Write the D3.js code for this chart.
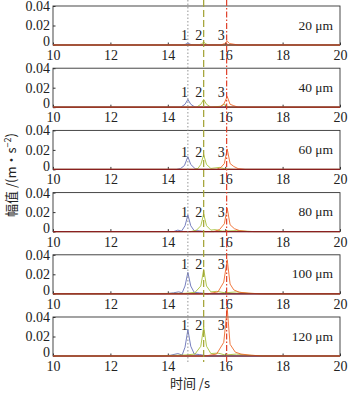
<!DOCTYPE html>
<html>
<head>
<meta charset="utf-8">
<script src="https://cdn.jsdelivr.net/npm/d3@7"></script>
<style>
  body { margin: 0; background: #fff; }
</style>
</head>
<body>
<div id="chart"></div>
<script>
const width = 354;
const height = 393;
const margin = { left: 53, right: 14 };
const panelTop = 6;
const panelStep = 62.2;
const panelHeight = 39;
const serif = "'Liberation Serif', 'DejaVu Serif', serif";

// panel captions and tick labels
const panelLabels = ["20 μm", "40 μm", "60 μm", "80 μm", "100 μm", "120 μm"];
const xTicks = [10, 12, 14, 16, 18, 20];
const yTicks = [0, 0.02, 0.04];

// reference lines (s)
const refTimes = [14.7, 15.25, 16.05];

// height of the 1 2 3 labels in each panel
const labelLevels = [0.010, 0.0155, 0.018, 0.0205, 0.031, 0.032];
const labelTimes = [14.58, 15.08, 15.86];

// peak 1 (blue) per panel: [time, amplitude]
const wave1 = [
  [[10, 0], [14.5, 0], [14.62, 0.0008], [14.7, 0.002], [14.78, 0.0008], [14.9, 0], [20, 0]],
  [[10, 0], [14.45, 0], [14.6, 0.003], [14.7, 0.008], [14.8, 0.003], [14.95, 0], [20, 0]],
  [[10, 0], [14.3, 0], [14.45, 0.001], [14.58, 0.004], [14.7, 0.013], [14.8, 0.005], [14.95, 0.0008], [15.1, 0], [20, 0]],
  [[10, 0], [14.2, 0], [14.35, 0.0015], [14.48, 0.0005], [14.6, 0.006], [14.7, 0.017], [14.8, 0.006], [14.92, 0.001], [15.1, 0.0008], [15.3, 0], [20, 0]],
  [[10, 0], [13.9, 0], [14.2, 0.001], [14.38, 0.002], [14.5, 0.001], [14.6, 0.008], [14.7, 0.022], [14.8, 0.008], [14.92, 0.0015], [15.1, 0.001], [15.4, 0], [20, 0]],
  [[10, 0], [13.8, 0], [14.1, 0.0008], [14.35, 0.0025], [14.5, 0.001], [14.6, 0.009], [14.7, 0.027], [14.8, 0.01], [14.92, 0.002], [15.1, 0.0015], [15.4, 0], [20, 0]]
];

// peak 2 (yellow green)
const wave2 = [
  [[10, 0], [15.05, 0], [15.17, 0.001], [15.25, 0.003], [15.33, 0.001], [15.45, 0], [20, 0]],
  [[10, 0], [15.0, 0], [15.15, 0.003], [15.25, 0.008], [15.35, 0.003], [15.5, 0], [15.85, 0.001], [15.95, 0.003], [16.05, 0.001], [16.2, 0], [20, 0]],
  [[10, 0], [14.9, 0], [15.05, 0.001], [15.15, 0.005], [15.25, 0.015], [15.35, 0.005], [15.5, 0.001], [15.8, 0.002], [16.0, 0.0005], [16.3, 0], [20, 0]],
  [[10, 0], [14.8, 0], [15.0, 0.0015], [15.15, 0.006], [15.25, 0.018], [15.35, 0.006], [15.5, 0.0015], [15.65, 0.002], [15.9, 0.0005], [16.4, 0.001], [17.0, 0], [20, 0]],
  [[10, 0], [12.0, 0], [14.6, 0.0005], [14.95, 0.0015], [15.15, 0.008], [15.25, 0.025], [15.35, 0.008], [15.5, 0.002], [15.7, 0.0025], [16.0, 0.001], [16.4, 0.002], [16.8, 0.0005], [17.5, 0], [20, 0]],
  [[10, 0], [13.5, 0], [14.6, 0.001], [14.95, 0.002], [15.15, 0.01], [15.25, 0.03], [15.35, 0.01], [15.5, 0.0025], [15.75, 0.003], [16.0, 0.001], [16.4, 0.002], [16.8, 0.0008], [17.5, 0], [20, 0]]
];

// peak 3 (orange)
const wave3 = [
  [[10, 0], [15.85, 0], [15.98, 0.0015], [16.07, 0.004], [16.15, 0.0015], [16.3, 0.0008], [16.45, 0], [20, 0]],
  [[10, 0], [15.8, 0], [15.95, 0.003], [16.07, 0.011], [16.17, 0.003], [16.3, 0.0015], [16.45, 0], [20, 0]],
  [[10, 0], [15.7, 0], [15.85, 0.002], [15.97, 0.006], [16.07, 0.021], [16.17, 0.006], [16.3, 0.003], [16.45, 0.0008], [16.7, 0], [20, 0]],
  [[10, 0], [15.6, 0], [15.8, 0.002], [15.97, 0.008], [16.07, 0.024], [16.17, 0.007], [16.32, 0.003], [16.5, 0.001], [16.8, 0], [20, 0]],
  [[10, 0], [15.4, 0], [15.75, 0.002], [15.95, 0.012], [16.07, 0.035], [16.17, 0.01], [16.3, 0.004], [16.5, 0.0015], [16.9, 0.0005], [17.2, 0], [20, 0]],
  [[10, 0], [15.3, 0], [15.7, 0.002], [15.95, 0.014], [16.07, 0.049], [16.17, 0.012], [16.35, 0.004], [16.55, 0.002], [16.9, 0.0008], [17.3, 0], [20, 0]]
];

const waves = [wave1, wave2, wave3];
const waveColors = ["#6670b8", "#a8c23a", "#ee6a2a"];
const refColors = ["#888", "#a0a030", "#e0402a"];
const refDash = ["1.5,2", "7,3", "6,2,1.5,2"];

const svg = d3.create("svg")
  .attr("width", width)
  .attr("height", height)
  .attr("viewBox", [0, 0, width, height])
  .style("font-family", serif);

const x = d3.scaleLinear()
  .domain([10, 20])
  .range([margin.left, width - margin.right]);

const line = d3.line()
  .x((d) => x(d[0]));

panelLabels.forEach((label, i) => {
  const top = panelTop + i * panelStep;
  const y = d3.scaleLinear()
    .domain([0, 0.04])
    .range([top + panelHeight, top]);

  const g = svg.append("g").attr("class", "panel");

  // frame
  g.append("rect")
    .attr("x", x(10))
    .attr("y", top)
    .attr("width", x(20) - x(10))
    .attr("height", panelHeight)
    .attr("fill", "none")
    .attr("stroke", "#333")
    .attr("stroke-width", 0.9);

  // x axis (ticks inward)
  g.append("g")
    .attr("transform", `translate(0,${top + panelHeight})`)
    .call(d3.axisBottom(x).tickValues(xTicks).tickSize(-2.5).tickPadding(5).tickFormat(d3.format("d")))
    .call((g) => g.select(".domain").remove())
    .call((g) => g.selectAll("line").attr("stroke", "#333"))
    .call((g) => g.selectAll("text").attr("font-size", "14px").attr("fill", "#222")
      .style("font-family", serif));

  // y axis
  g.append("g")
    .attr("transform", `translate(${x(10)},0)`)
    .call(d3.axisLeft(y).tickValues(yTicks).tickSize(-2.5).tickPadding(3)
      .tickFormat((d) => (d === 0 ? "0" : d3.format(".2f")(d))))
    .call((g) => g.select(".domain").remove())
    .call((g) => g.selectAll("line").attr("stroke", "#333"))
    .call((g) => g.selectAll("text").attr("font-size", "14px").attr("fill", "#222")
      .style("font-family", serif)
      .attr("dy", (d) => (d === 0 ? "0.05em" : "0.32em")));

  // waveforms
  line.y((d) => y(d[1]));
  waves.forEach((w, k) => {
    g.append("path")
      .attr("d", line(w[i]))
      .attr("fill", "none")
      .attr("stroke", waveColors[k])
      .attr("stroke-width", 0.9);
  });

  // baseline
  g.append("path")
    .attr("d", line([[10, 0], [20, 0]]))
    .attr("stroke", "#8a2020")
    .attr("stroke-width", 1.2);

  // peak numbers
  labelTimes.forEach((t, k) => {
    g.append("text")
      .attr("x", x(t))
      .attr("y", y(labelLevels[i]) + 5)
      .attr("text-anchor", "middle")
      .attr("font-size", "14px")
      .attr("fill", "#222")
      .text(k + 1);
  });

  // thickness caption
  g.append("text")
    .attr("x", x(20) - 7)
    .attr("y", y(0.02) + 4)
    .attr("text-anchor", "end")
    .attr("font-size", "13.5px")
    .attr("fill", "#222")
    .text(label);
});

// vertical reference lines across all panels
svg.append("g")
  .selectAll("line")
  .data(refTimes)
  .join("line")
  .attr("x1", (d) => x(d))
  .attr("x2", (d) => x(d))
  .attr("y1", 0)
  .attr("y2", panelTop + 5 * panelStep + panelHeight + 6)
  .attr("stroke", (d, i) => refColors[i])
  .attr("stroke-width", (d, i) => (i === 0 ? 0.9 : 1.2))
  .attr("stroke-dasharray", (d, i) => refDash[i]);

// axis titles
svg.append("text")
  .attr("x", 190)
  .attr("y", 388)
  .attr("text-anchor", "middle")
  .attr("font-size", "13px")
  .attr("fill", "#222")
  .style("font-family", "'Noto Sans CJK SC', sans-serif")
  .text("时间 /s");

const yTitle = svg.append("text")
  .attr("transform", "translate(16,175) rotate(-90)")
  .attr("text-anchor", "middle")
  .attr("font-size", "13px")
  .attr("fill", "#222")
  .style("font-family", "'Noto Sans CJK SC', sans-serif");
yTitle.append("tspan").text("幅值 /(m·s");
yTitle.append("tspan").attr("dy", -5).attr("font-size", "9px").text("−2");
yTitle.append("tspan").attr("dy", 5).text(")");

document.getElementById("chart").appendChild(svg.node());
</script>
</body>
</html>
